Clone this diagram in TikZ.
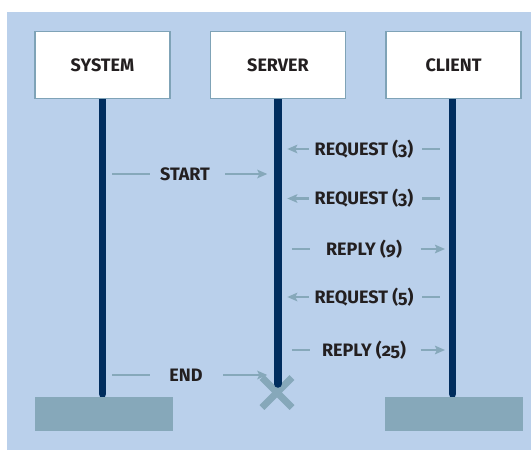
\documentclass[tikz,border=0pt]{standalone}
\usepackage{fontspec}
\setmainfont{Fira Sans}[Numbers=OldStyle]
\usetikzlibrary{arrows.meta}
\usetikzlibrary{calc}
\usetikzlibrary{positioning}
\usetikzlibrary{shapes.misc}

\definecolor{paneblue}{HTML}{BAD0EB}
\definecolor{edgeblue}{HTML}{7FA3B7}
\definecolor{linenavy}{HTML}{002D5E}
\definecolor{msgblue}{HTML}{86A8BA}
\definecolor{inkgray}{HTML}{231F20}

\tikzset{
  actor/.style={draw=edgeblue, line width=1.5pt, fill=white,
    minimum width=135pt, minimum height=67pt, inner sep=0pt,
    font=\bfseries\fontsize{18}{21}\selectfont, text=inkgray},
  lifeline/.style={draw=linenavy, line width=7.5pt, line cap=round},
  basebar/.style={fill=msgblue, minimum width=138pt, minimum height=34.5pt,
    inner sep=0pt, anchor=north},
  msg/.style={font=\bfseries\fontsize{18}{21}\selectfont, text=inkgray, inner sep=0pt},
  seg/.style={draw=msgblue, line width=2.5pt},
  segarrow/.style={seg, -{Stealth[length=10pt,width=8.5pt,inset=2pt]}},
  stopmark/.style={cross out, draw=msgblue, line width=7pt,
    minimum size=23pt, inner sep=0pt}
}

\begin{document}
\begin{tikzpicture}[x=1pt,y=-1pt]
\useasboundingbox (0,0) rectangle (531,450);
\fill[paneblue] (7,12) rectangle (531,450);

% stop mark under the server line
\node[stopmark] (stop) at (277,392.5) {};

% lifelines
\coordinate (sysl) at (102.5,99);
\coordinate (srvl) at (277.8,99);
\coordinate (clil) at (452.5,99);
\draw[lifeline] (sysl) -- ++(0,295) coordinate (sysend);
\draw[lifeline] (srvl) -- ++(0,285) coordinate (srvend);
\draw[lifeline] (clil) -- ++(0,295) coordinate (cliend);

% heads
\node[actor] (sys) at (102.5,65) {SYSTEM};
\node[actor, right=39pt of sys] (srv) {SERVER};
\node[actor, right=39pt of srv] (cli) {CLIENT};

% feet
\node[basebar] (sysbase) at ($(sys.south |- 0,396.5)+(1,0)$) {};
\node[basebar] (clibase) at ($(cli.south |- 0,396.5)$) {};

% labels
\node[msg] (req1) at (364,149) {REQUEST (3)};
\node[msg] (start) at (185,174) {START};
\node[msg] (req2) at (364,198.5) {REQUEST (3)};
\node[msg] (rep9) at (364,249) {REPLY (9)};
\node[msg] (req5) at (364,297) {REQUEST (5)};
\node[msg] (rep25) at (364,350) {REPLY (25)};
\node[msg] (stopmsg) at (186,375) {END};

% system -> server
\draw[seg] ($(start -| sysl)+(9.5,0)$) -- ($(start -| sysl)+(47.5,0)$);
\draw[segarrow] ($(start -| srvl)+(-52.5,0)$) -- ($(start -| srvl)+(-10.5,0)$);
\draw[seg] ($(stopmsg -| sysl)+(9.5,0)$) -- ($(stopmsg -| sysl)+(47.5,0)$);
\draw[segarrow] ($(stopmsg -| srvl)+(-54.5,0)$) -- ($(stopmsg -| srvl)+(-10.5,0)$);

% client -> server
\draw[seg] ($(req1 -| clil)+(-13,0)$) -- ($(req1 -| clil)+(-31,0)$);
\draw[segarrow] ($(req1 -| srvl)+(31,0)$) -- ($(req1 -| srvl)+(9.5,0)$);
\draw[seg] ($(req2 -| clil)+(-13,0)$) -- ($(req2 -| clil)+(-31,0)$);
\draw[segarrow] ($(req2 -| srvl)+(31,0)$) -- ($(req2 -| srvl)+(9.5,0)$);
\draw[seg] ($(req5 -| clil)+(-13,0)$) -- ($(req5 -| clil)+(-31,0)$);
\draw[segarrow] ($(req5 -| srvl)+(31,0)$) -- ($(req5 -| srvl)+(9.5,0)$);

% server -> client
\draw[seg] ($(rep9 -| srvl)+(14,0)$) -- ($(rep9 -| srvl)+(32.5,0)$);
\draw[segarrow] ($(rep9 -| clil)+(-32,0)$) -- ($(rep9 -| clil)+(-7.5,0)$);
\draw[seg] ($(rep25 -| srvl)+(14,0)$) -- ($(rep25 -| srvl)+(32.5,0)$);
\draw[segarrow] ($(rep25 -| clil)+(-32,0)$) -- ($(rep25 -| clil)+(-7.5,0)$);
\end{tikzpicture}
\end{document}
